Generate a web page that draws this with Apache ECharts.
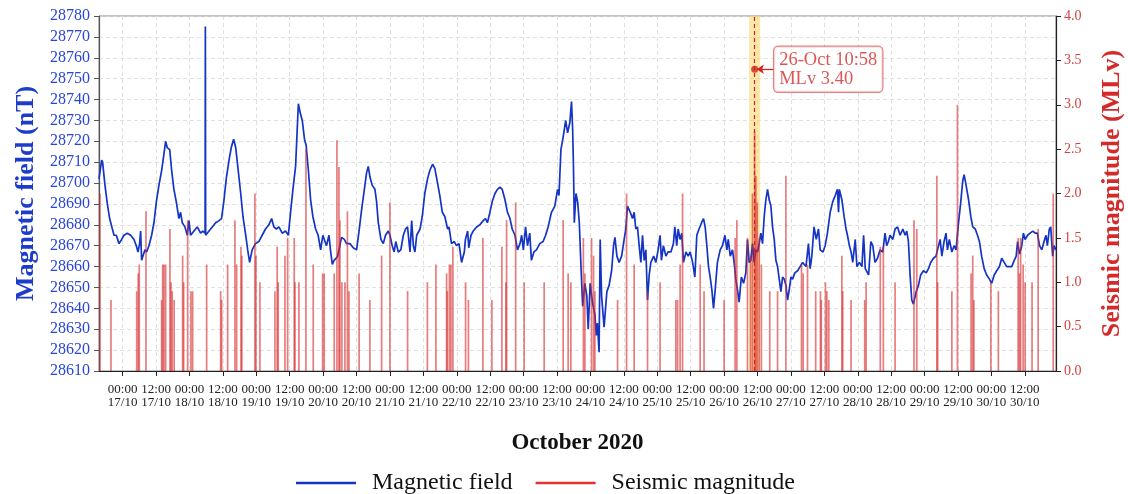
<!DOCTYPE html>
<html><head><meta charset="utf-8">
<script src="https://cdn.jsdelivr.net/npm/echarts@6/dist/echarts.min.js"></script>
<style>html,body{margin:0;padding:0;background:#fff}#c{width:1128px;height:494px}</style>
</head><body><div id="c"></div>
<script>
// ---- data (hours relative to 17 Oct 2020 00:00 UTC) ----
const baseDate = [2020, 9, 17];
const magHours = [-8.5,-7.55,-7.2,-6.36,-5.5,-4.68,-3.7,-3.1,-2.29,-1.33,-0.37,0.47,1.66,2.86,4.06,4.9,5.5,6.09,6.45,6.8,7.4,8.0,8.6,9.44,10.4,11.24,12.1,13.03,13.99,14.83,15.43,16.0,16.9,17.6,18.4,19.26,20.2,20.8,21.4,22.37,23.2,23.8,24.4,25.6,26.8,28.0,28.8,29.6,29.7,29.8,30.0,31.0,32.2,33.4,34.6,35.5,36.4,37.2,38.2,39.0,39.85,40.6,41.5,42.4,43.2,44.2,44.9,45.6,46.5,47.7,48.9,50.1,51.3,52.5,53.5,54.3,55.2,56.1,57.3,58.5,59.5,60.3,61.15,62.1,62.7,63.1,63.7,64.5,65.3,65.9,66.7,67.5,68.3,69.3,70.2,71.1,71.9,72.6,73.2,74.1,74.7,75.3,75.9,76.7,77.2,78.0,78.6,79.6,80.4,81.6,82.8,84.0,84.8,85.8,86.8,87.6,88.2,88.8,89.6,90.6,91.2,91.8,92.75,93.6,94.4,95.4,96.0,96.8,97.5,98.1,98.97,99.9,100.8,101.6,102.3,103.2,103.8,104.4,104.96,105.6,106.8,107.6,108.5,109.5,110.3,111.3,112.1,113.1,113.9,114.8,115.7,116.7,117.2,118.1,119.1,119.9,120.8,121.7,122.7,123.1,123.9,124.3,125.1,125.9,127.1,128.3,129.5,130.3,131.0,131.9,132.7,133.7,134.6,135.5,136.3,137.3,138.2,139.1,139.9,140.9,141.8,142.7,143.3,143.9,144.7,145.4,146.2,146.8,147.7,148.6,149.8,151.0,151.9,152.8,154.0,155.2,156.2,156.7,157.4,158.2,159.1,159.8,160.6,161.2,161.6,161.9,162.2,162.8,163.4,164.0,164.6,165.2,166.0,166.7,167.2,167.9,168.7,169.6,170.1,170.5,171.1,171.5,172.0,172.9,173.9,174.7,175.6,176.3,176.8,177.5,178.3,179.2,180.1,180.7,181.3,182.3,183.1,183.7,184.3,184.9,185.5,186.1,186.7,187.3,187.9,188.5,189.1,189.7,190.7,191.5,192.3,193.0,193.5,194.2,195.1,195.9,196.9,197.8,198.3,199.0,199.5,200.2,200.8,201.4,202.3,203.1,203.8,204.7,205.5,206.2,207.0,207.9,208.6,209.2,209.8,210.4,211.0,211.6,212.2,212.8,213.6,214.6,215.4,216.3,217.0,217.5,218.2,219.0,219.6,220.2,220.8,221.4,222.2,223.0,223.8,224.4,225.0,225.6,226.2,226.8,227.4,228.0,228.6,229.2,229.8,230.4,231.0,231.6,232.2,232.8,233.4,234.0,234.6,235.2,235.8,236.4,237.0,237.6,238.2,238.8,239.4,240.0,240.6,241.4,242.4,243.3,244.2,245.4,246.3,246.9,247.5,248.3,249.1,249.9,250.5,251.5,252.3,253.1,254.1,255.0,255.9,256.7,257.1,257.4,258.3,259.1,259.8,260.3,261.0,261.6,262.2,263.1,263.7,264.6,265.5,266.1,266.7,267.9,268.7,269.4,270.2,271.1,272.0,273.0,273.8,274.4,275.0,275.6,276.6,277.4,278.3,279.2,280.2,281.0,281.6,282.2,282.8,283.4,284.0,285.0,285.8,286.6,287.6,288.6,289.4,290.2,291.2,292.1,293.0,293.6,294.2,295.0,295.7,296.2,296.9,297.8,298.6,299.3,300.2,301.0,301.7,302.2,302.9,303.8,304.6,305.3,306.2,307.0,307.7,308.5,309.4,310.3,311.3,312.1,313.0,313.9,314.9,315.7,316.6,317.5,318.5,319.3,320.2,320.9,321.4,322.1,322.9,323.5,324.1,325.0,325.9,326.9,327.7,328.5,329.3,330.1,330.9,331.6,332.1,332.8,333.3,334.0,334.5,335.2];
const magValues = [28702,28711,28710,28699,28690,28683,28678,28675,28675,28671,28673,28675,28676,28675,28673,28670,28667,28671,28677,28663,28663,28668,28667,28670,28675,28681,28691,28699,28706,28714,28720,28717,28716,28706,28697,28691,28683,28686,28681,28679,28675,28682,28675,28677,28679,28676,28677,28676,28775,28675,28675,28677,28679,28681,28682,28683,28692,28702,28711,28717,28721,28717,28706,28695,28684,28675,28668,28662,28668,28671,28672,28675,28678,28680,28683,28679,28678,28679,28676,28677,28675,28686,28697,28708,28726,28738,28734,28730,28721,28718,28706,28692,28684,28678,28675,28668,28675,28675,28670,28675,28667,28661,28663,28664,28665,28670,28674,28673,28671,28671,28669,28668,28676,28687,28697,28705,28708,28703,28699,28697,28691,28681,28673,28671,28675,28677,28675,28670,28667,28672,28667,28668,28675,28678,28679,28667,28682,28670,28667,28675,28678,28684,28695,28702,28706,28709,28707,28700,28694,28686,28684,28678,28679,28671,28672,28670,28671,28662,28667,28673,28677,28669,28675,28677,28679,28680,28682,28683,28681,28686,28691,28695,28697,28698,28697,28692,28686,28683,28678,28675,28668,28671,28675,28668,28679,28670,28676,28663,28667,28668,28671,28672,28675,28679,28686,28689,28697,28694,28716,28722,28730,28724,28729,28739,28726,28708,28681,28695,28691,28681,28660,28641,28652,28646,28630,28652,28643,28637,28627,28633,28619,28673,28646,28631,28648,28651,28658,28670,28674,28665,28662,28665,28673,28678,28689,28686,28683,28686,28678,28679,28670,28662,28675,28663,28668,28644,28656,28662,28665,28662,28668,28675,28663,28670,28665,28667,28667,28671,28679,28670,28678,28673,28676,28662,28667,28665,28667,28662,28655,28675,28678,28681,28683,28679,28670,28660,28655,28649,28640,28649,28662,28668,28670,28675,28668,28673,28665,28668,28662,28654,28649,28643,28655,28652,28657,28673,28662,28663,28671,28662,28668,28667,28671,28676,28671,28684,28692,28697,28692,28689,28679,28673,28663,28660,28654,28648,28655,28654,28651,28644,28649,28655,28654,28657,28658,28660,28662,28660,28671,28659,28665,28679,28673,28678,28668,28667,28670,28676,28686,28691,28694,28697,28686,28697,28692,28684,28678,28675,28670,28667,28662,28673,28660,28662,28660,28675,28659,28656,28672,28670,28662,28664,28668,28667,28676,28670,28672,28675,28673,28678,28679,28675,28678,28675,28677,28672,28656,28644,28642,28648,28651,28656,28658,28657,28659,28662,28664,28665,28670,28673,28665,28672,28676,28668,28673,28667,28670,28668,28681,28691,28701,28704,28699,28692,28684,28679,28678,28675,28672,28665,28659,28656,28654,28652,28656,28658,28660,28664,28662,28660,28660,28660,28663,28665,28672,28666,28670,28676,28673,28675,28676,28677,28676,28676,28670,28668,28672,28675,28670,28678,28679,28665,28670,28668];
const quakeHours = [-8.15,-4.2,5.03,5.6,5.96,8.37,14.0,14.36,14.83,15.44,16.98,17.34,17.8,18.5,21.54,21.9,23.34,24.52,25.13,30.16,35.19,35.55,37.7,40.32,40.93,42.48,42.8,47.5,47.86,49.3,54.69,55.5,55.87,58.28,59.25,61.62,61.87,63.3,65.82,68.44,71.81,72.39,75.98,76.95,77.67,78.03,78.74,79.82,80.72,81.26,84.92,88.8,93.0,95.98,102.33,109.44,112.5,116.34,116.6,117.34,117.9,118.6,123.16,124.17,129.37,132.6,136.2,137.63,137.88,141.15,144.2,151.38,158.2,160.0,160.97,165.46,166.0,168.4,169.12,169.6,177.74,180.97,183.7,188.5,193.0,198.67,199.3,200.2,201.08,207.4,208.8,216.0,219.96,220.57,224.4,225.5,226.2,226.97,227.4,227.9,228.6,229.4,232.4,235.2,238.2,243.8,244.4,245.96,248.9,250.6,250.9,252.4,252.9,253.6,258.3,258.6,261.6,266.5,267.0,272.1,273.2,277.4,284.2,285.2,292.4,292.7,297.8,299.8,304.7,305.3,305.7,311.8,314.5,321.6,322.1,322.5,323.4,324.1,326.6,328.8,334.2];
const quakeMags = [2.0,0.8,0.9,1.1,1.2,1.8,0.8,1.2,1.2,1.2,1.6,1.0,0.9,0.8,1.3,1.0,1.7,0.9,0.9,1.2,0.9,0.8,1.2,1.7,1.2,1.4,1.3,2.0,1.3,1.0,0.9,1.4,1.0,1.3,1.5,1.5,1.0,1.0,2.5,1.2,1.1,1.1,1.1,2.6,2.3,1.7,1.0,1.0,1.8,0.9,1.1,0.8,1.3,1.9,0.9,1.0,1.2,1.1,0.9,1.2,1.2,1.4,1.0,0.8,1.5,0.8,1.4,1.0,1.7,1.9,1.0,1.0,1.7,1.1,1.0,1.5,1.1,1.5,1.3,0.9,0.8,2.0,1.2,0.9,1.0,0.8,0.8,1.2,2.0,1.2,0.9,0.8,1.5,1.7,1.5,1.3,2.0,2.7,2.2,1.9,1.5,1.2,0.9,0.9,2.2,1.2,1.1,1.2,0.9,0.9,0.8,1.0,0.9,0.8,1.3,0.9,0.8,0.8,1.0,1.4,1.4,1.0,1.7,1.6,2.2,1.0,0.9,3.0,1.1,1.3,0.8,1.0,0.9,1.5,1.1,1.5,1.2,1.0,1.0,1.6,2.0];
const eventHour = 226.97;      // 26-Oct 10:58
const eventMag = 3.40;
const eventLabel = ['26-Oct 10:58', 'MLv 3.40'];
const seriesNames = ['Magnetic field', 'Seismic magnitude'];
const xAxisTitle = 'October 2020';
const leftTitle = 'Magnetic field (nT)';
const rightTitle = 'Seismic magnitude (MLv)';

// ---- helpers ----
const H = 3600 * 1000;
const T0 = Date.UTC(baseDate[0], baseDate[1], baseDate[2]);
const t = h => T0 + h * H;
const xMin = t(-8.5), xMax = t(335.2);
const tickVals = [];
for (let v = T0; v <= xMax; v += 12 * H) tickVals.push(v);
const p2 = n => String(n).padStart(2, '0');
const fmt = v => { const d = new Date(v); return p2(d.getUTCHours()) + ':' + p2(d.getUTCMinutes()) + '\n' + p2(d.getUTCDate()) + '/' + p2(d.getUTCMonth() + 1); };

const SERIF = '"Liberation Serif","Times New Roman",serif';
const BLUE = '#1434c4';

const chart = echarts.init(document.getElementById('c'), null, {renderer: 'canvas'});
chart.setOption({
  animation: false,
  backgroundColor: '#fff',
  grid: {left: 99, right: 72, top: 16, bottom: 123, show: true, borderColor: '#888', borderWidth: 1,
         containLabel: false, outerBoundsMode: 'none'},
  legend: {
    top: 466, left: 291, icon: 'rect', itemWidth: 60, itemHeight: 2.5, itemGap: 23,
    textStyle: {fontFamily: SERIF, fontSize: 24, color: '#111', padding: [0, 0, 0, 11]},
    data: [{name: seriesNames[0], itemStyle: {color: BLUE}}, {name: seriesNames[1], itemStyle: {color: '#e53030', opacity: 1}}]
  },
  xAxis: {
    type: 'value', min: xMin, max: xMax,
    name: xAxisTitle, nameLocation: 'middle', nameGap: 61,
    nameTextStyle: {fontFamily: SERIF, fontSize: 23, fontWeight: 'bold', color: '#111'},
    axisLine: {lineStyle: {color: '#222', width: 1.2}},
    axisTick: {customValues: tickVals, length: 5, lineStyle: {color: '#222'}},
    axisLabel: {customValues: tickVals, formatter: fmt, fontFamily: SERIF, fontSize: 13, lineHeight: 13, color: '#222', margin: 12},
    splitLine: {show: true, lineStyle: {type: [4, 3], color: '#d8d8d8', width: 0.8}}
  },
  yAxis: [{
    type: 'value', min: 28610, max: 28780, interval: 10, position: 'left',
    name: leftTitle, nameLocation: 'middle', nameGap: 57, nameRotate: 90,
    nameTextStyle: {fontFamily: SERIF, fontSize: 26, fontWeight: 'bold', color: '#1d3ccc'},
    axisLine: {show: true, lineStyle: {color: '#555', width: 1.2}},
    axisTick: {show: true, length: 5, lineStyle: {color: '#555'}},
    axisLabel: {fontFamily: SERIF, fontSize: 16, color: '#2a46d8', margin: 9, formatter: v => String(v)},
    splitLine: {show: true, lineStyle: {type: [4, 3], color: '#d8d8d8', width: 0.8}}
  }, {
    type: 'value', min: 0, max: 4, interval: 0.5, position: 'right',
    name: rightTitle, nameLocation: 'middle', nameGap: 43, nameRotate: 90,
    nameTextStyle: {fontFamily: SERIF, fontSize: 26, fontWeight: 'bold', color: '#d42a2a'},
    axisLine: {show: true, lineStyle: {color: '#222', width: 1.2}},
    axisTick: {show: true, length: 5, lineStyle: {color: '#222'}},
    axisLabel: {fontFamily: SERIF, fontSize: 14, color: '#d94040', margin: 8, formatter: v => v.toFixed(1)},
    splitLine: {show: false}
  }],
  series: [{
    name: seriesNames[0], type: 'line', yAxisIndex: 0, showSymbol: false, symbol: 'none',
    data: magHours.map((h, i) => [t(h), magValues[i]]),
    lineStyle: {color: BLUE, width: 1.7}, itemStyle: {color: BLUE}, z: 3
  }, {
    name: seriesNames[1], type: 'bar', yAxisIndex: 1, barWidth: 1.7,
    data: quakeHours.map((h, i) => [t(h), quakeMags[i]]),
    itemStyle: {color: 'rgba(214,39,40,0.6)'}, z: 4,
    markArea: {silent: true, itemStyle: {color: 'rgba(249,215,100,0.55)'}, data: [[{xAxis: t(eventHour - 2)}, {xAxis: t(eventHour + 2)}]]},
    markLine: {silent: true, symbol: 'none', label: {show: false},
      lineStyle: {color: '#d62020', type: [4, 3], width: 1.2}, data: [{xAxis: t(eventHour)}]}
  }, {
    name: 'event', type: 'scatter', yAxisIndex: 1, symbolSize: 7, z: 6,
    data: [[t(eventHour), eventMag]], itemStyle: {color: '#d62020'},
    label: {show: true, position: 'right', distance: 16, formatter: eventLabel.join('\n'),
      fontFamily: SERIF, fontSize: 18.5, lineHeight: 19, color: '#d62a2a', backgroundColor: '#fff',
      borderColor: '#e06060', borderWidth: 1.2, borderRadius: 4, padding: [4, 5, 3, 5]},
    markLine: {silent: true, symbol: ['arrow', 'none'], symbolSize: [7, 7], label: {show: false},
      lineStyle: {color: '#d62020', type: 'solid', width: 1.2},
      data: [[{coord: [t(eventHour + 0.8), eventMag]}, {coord: [t(eventHour + 6.8), eventMag]}]]}
  }]
});
</script></body></html>
